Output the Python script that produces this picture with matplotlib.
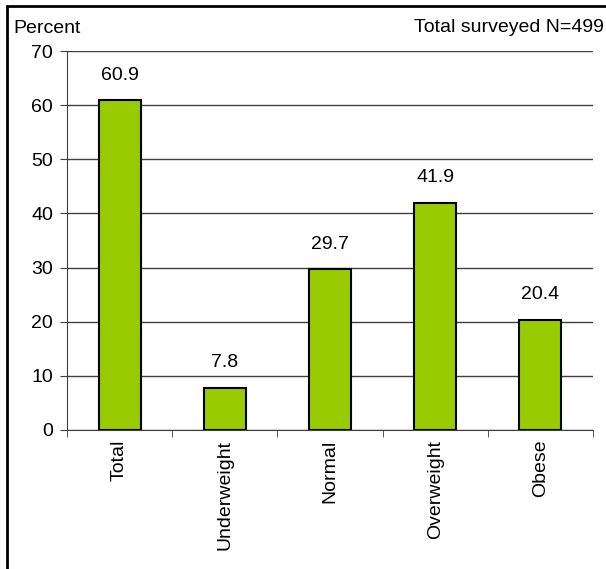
import matplotlib
matplotlib.use("Agg")
import matplotlib.pyplot as plt
from matplotlib.patches import Rectangle

categories = ["Total", "Underweight", "Normal", "Overweight", "Obese"]
values = [60.9, 7.8, 29.7, 41.9, 20.4]
yticks = [0, 10, 20, 30, 40, 50, 60, 70]

plt.rcParams['font.family'] = ['Liberation Sans', 'DejaVu Sans']
FS = 14

W, H = 606, 569
fig = plt.figure(figsize=(W/100, H/100), dpi=100)
ax = fig.add_axes([67/W, 1-430/H, (593-67)/W, (430-51)/H])

x = list(range(len(categories)))
ax.bar(x, values, width=0.4, color="#99CC00", edgecolor="black", linewidth=1.5, zorder=3)
for xi, v in zip(x, values):
    ax.annotate(f"{v}", (xi, v), xytext=(0, 12), textcoords="offset points",
                ha="center", va="bottom", fontsize=FS)

ax.set_xlim(-0.5, len(categories) - 0.5)
ax.set_ylim(0, 70)
ax.set_yticks(yticks)
ax.set_yticklabels([str(t) for t in yticks], fontsize=FS)
ax.yaxis.grid(True, color="#404040", linewidth=1, zorder=0)
ax.set_axisbelow(True)
ax.set_xticks(x)
ax.set_xticklabels(categories, rotation=90, fontsize=FS, va="top")
ax.set_xticks([i - 0.5 for i in range(len(categories) + 1)], minor=True)
ax.tick_params(axis="x", which="major", length=0, pad=7)
ax.tick_params(axis="x", which="minor", length=5, direction="out", color="#404040")
ax.tick_params(axis="y", length=5, direction="out", color="#404040", pad=5)
for s in ["top", "right"]:
    ax.spines[s].set_visible(False)
ax.spines["left"].set_color("#404040")
ax.spines["bottom"].set_color("#404040")

fig.text(13/W, 1-33/H, "Percent", fontsize=FS, ha="left", va="baseline")
fig.text(604/W, 1-32/H, "Total surveyed N=499", fontsize=FS, ha="right", va="baseline")

fig.patches.append(Rectangle((6.5/W, -0.1), 1.2, 1 - 6.5/H + 0.1, transform=fig.transFigure,
                             fill=False, edgecolor="black", linewidth=2))

fig.savefig("out.png", dpi=100)
